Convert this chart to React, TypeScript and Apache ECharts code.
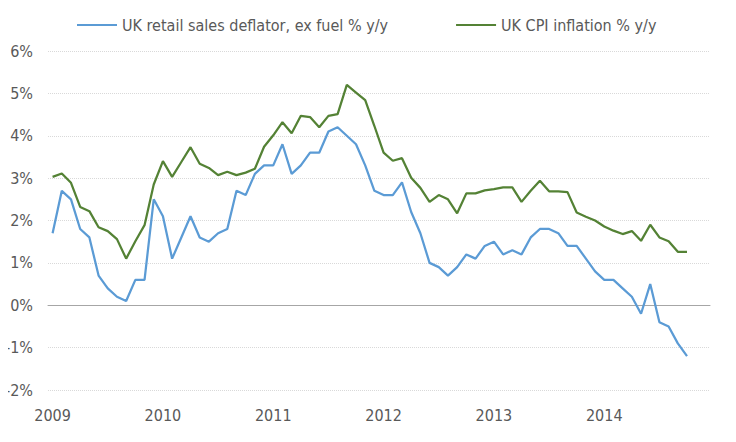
import React, { useEffect, useRef } from "react";
import * as echarts from "echarts";

const years = ["2009", "2010", "2011", "2012", "2013", "2014"];
const months = ["01", "02", "03", "04", "05", "06", "07", "08", "09", "10", "11", "12"];

const retailDeflator: (number | null)[] = [
  1.7, 2.7, 2.5, 1.8, 1.6, 0.7, 0.4, 0.2, 0.1, 0.6, 0.6, 2.5,
  2.1, 1.1, 1.6, 2.1, 1.6, 1.5, 1.7, 1.8, 2.7, 2.6, 3.1, 3.3,
  3.3, 3.8, 3.1, 3.3, 3.6, 3.6, 4.1, 4.2, 4.0, 3.8, 3.3, 2.7,
  2.6, 2.6, 2.9, 2.2, 1.7, 1.0, 0.9, 0.7, 0.9, 1.2, 1.1, 1.4,
  1.5, 1.2, 1.3, 1.2, 1.6, 1.8, 1.8, 1.7, 1.4, 1.4, 1.1, 0.8,
  0.6, 0.6, 0.4, 0.2, -0.2, 0.5, -0.4, -0.5, -0.9, -1.2, null, null,
];

const cpiInflation: (number | null)[] = [
  3.03, 3.11, 2.89, 2.32, 2.22, 1.84, 1.75, 1.56, 1.1, 1.51, 1.89, 2.85,
  3.4, 3.03, 3.38, 3.73, 3.34, 3.24, 3.07, 3.15, 3.07, 3.13, 3.22, 3.74,
  4.01, 4.32, 4.06, 4.47, 4.44, 4.2, 4.47, 4.51, 5.2, 5.02, 4.84, 4.23,
  3.6, 3.41, 3.47, 3.01, 2.77, 2.44, 2.6, 2.5, 2.17, 2.64, 2.64, 2.71,
  2.74, 2.78, 2.78, 2.44, 2.7, 2.94, 2.69, 2.69, 2.67, 2.19, 2.09, 2.0,
  1.86, 1.76, 1.68, 1.75, 1.52, 1.9, 1.6, 1.51, 1.26, 1.26, null, null,
];

const categories: string[] = [];
years.forEach((y) => months.forEach((m) => categories.push(`${y}-${m}`)));

const FONT = "'DejaVu Sans Condensed', 'DejaVu Sans', sans-serif";
const TEXT = "#595959";

export default function App() {
  const ref = useRef<HTMLDivElement>(null);
  useEffect(() => {
    if (!ref.current) return;
    const chart = echarts.init(ref.current, undefined, { renderer: "svg" });
    chart.setOption({
      animation: false,
      textStyle: { fontFamily: FONT },
      legend: {
        top: 12,
        left: 72,
        icon: "rect",
        itemWidth: 40,
        itemHeight: 2,
        itemGap: 68,
        textStyle: { color: TEXT, fontSize: 16, fontFamily: FONT },
        data: ["UK retail sales deflator, ex fuel % y/y", "UK CPI inflation % y/y"],
      },
      grid: { left: 48, right: 26, top: 51, bottom: 52, containLabel: false },
      xAxis: {
        type: "category",
        data: categories,
        boundaryGap: true,
        axisLine: { onZero: true, lineStyle: { color: "#a6a6a6", width: 1 } },
        axisTick: { show: false },
        axisLabel: {
          interval: 11,
          margin: 17,
          color: TEXT,
          fontSize: 16,
          fontFamily: FONT,
          formatter: (v: string) => v.slice(0, 4),
        },
        splitLine: { show: false },
      },
      yAxis: {
        type: "value",
        min: -2,
        max: 6,
        interval: 1,
        axisLine: { show: false },
        axisTick: { show: false },
        axisLabel: {
          margin: 15,
          color: TEXT,
          fontSize: 16,
          fontFamily: FONT,
          formatter: "{value}%",
        },
        splitLine: { lineStyle: { color: "#d9d9d9", type: [1, 1], width: 1 } },
      },
      series: [
        {
          name: "UK retail sales deflator, ex fuel % y/y",
          type: "line",
          data: retailDeflator,
          symbol: "none",
          itemStyle: { color: "#5B9BD5" },
          lineStyle: { color: "#5B9BD5", width: 2.25 },
        },
        {
          name: "UK CPI inflation % y/y",
          type: "line",
          data: cpiInflation,
          symbol: "none",
          itemStyle: { color: "#548235" },
          lineStyle: { color: "#548235", width: 2.25 },
        },
      ],
    });
    return () => chart.dispose();
  }, []);
  return <div ref={ref} style={{ width: 736, height: 442, margin: -8 }} />;
}
